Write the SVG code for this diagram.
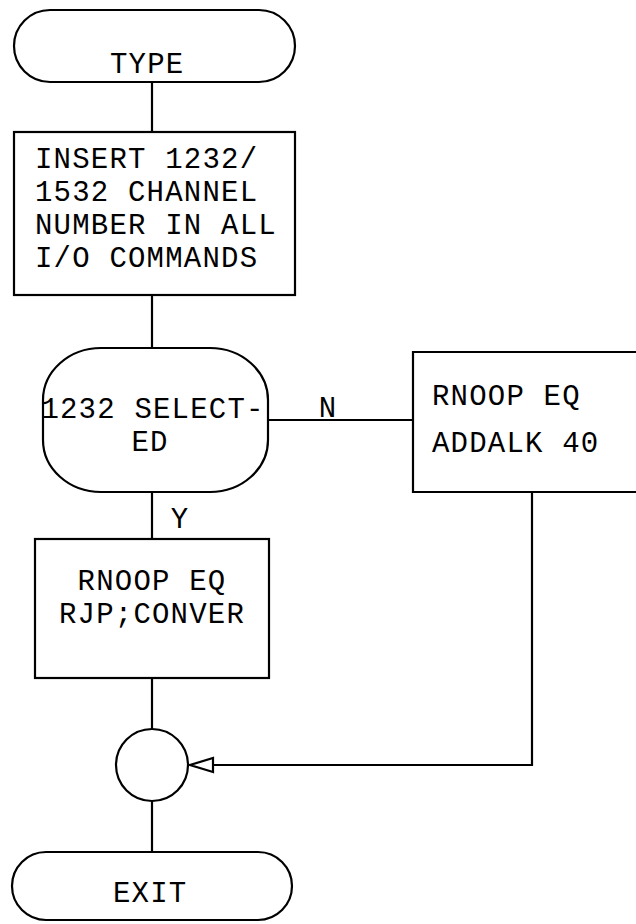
<svg xmlns="http://www.w3.org/2000/svg" width="636" height="924" viewBox="0 0 636 924">
<style>
.s{fill:none;stroke:#000;stroke-width:2.2}
.t{font-family:"Liberation Mono","Courier New",monospace;font-size:29px;letter-spacing:1.2px;fill:#000}
.m{text-anchor:middle}
</style>
<defs>
<marker id="arr" viewBox="-2 -10 28 20" markerWidth="28" markerHeight="20" refX="23" refY="0" orient="auto" markerUnits="userSpaceOnUse">
<path d="M0,-7 L23,0 L0,7 Z" fill="#fff" stroke="#000" stroke-width="2.2"/>
</marker>
</defs>
<rect width="636" height="924" fill="#fff"/>
<g id="connectors" class="s">
<line x1="152" y1="82" x2="152" y2="132"/>
<line x1="152" y1="295" x2="152" y2="348"/>
<line x1="268" y1="420" x2="413" y2="420"/>
<line x1="152" y1="492" x2="152" y2="539"/>
<line x1="152" y1="678" x2="152" y2="729"/>
<path d="M532,492 V765 H190" marker-end="url(#arr)"/>
<line x1="152" y1="801" x2="152" y2="852"/>
</g>
<g id="type">
<rect class="s" x="14" y="10" width="281" height="72" rx="36"/>
<text class="t" x="110" y="73">TYPE</text>
</g>
<g id="insert">
<rect class="s" x="14" y="132" width="281" height="163"/>
<text class="t" x="35" y="168">INSERT 1232/</text>
<text class="t" x="35" y="201">1532 CHANNEL</text>
<text class="t" x="35" y="234">NUMBER IN ALL</text>
<text class="t" x="35" y="267">I/O COMMANDS</text>
</g>
<g id="decision">
<rect class="s" x="43" y="348" width="225" height="144" rx="58" ry="52"/>
<text class="t m" x="153" y="418">1232 SELECT-</text>
<text class="t m" x="150" y="451">ED</text>
</g>
<g id="label-n"><text class="t m" x="328" y="417">N</text></g>
<g id="addalk">
<path class="s" d="M640,352 H413 V492 H640"/>
<text class="t" x="432" y="405">RNOOP EQ</text>
<text class="t" x="432" y="452">ADDALK 40</text>
</g>
<g id="label-y"><text class="t m" x="180" y="528">Y</text></g>
<g id="conver">
<rect class="s" x="35" y="539" width="234" height="139"/>
<text class="t m" x="152" y="590">RNOOP EQ</text>
<text class="t m" x="152" y="623">RJP;CONVER</text>
</g>
<g id="junction">
<circle class="s" cx="152" cy="765" r="36"/>
</g>
<g id="exit">
<rect class="s" x="12" y="852" width="280" height="68" rx="34"/>
<text class="t" x="113" y="902">EXIT</text>
</g>
</svg>
